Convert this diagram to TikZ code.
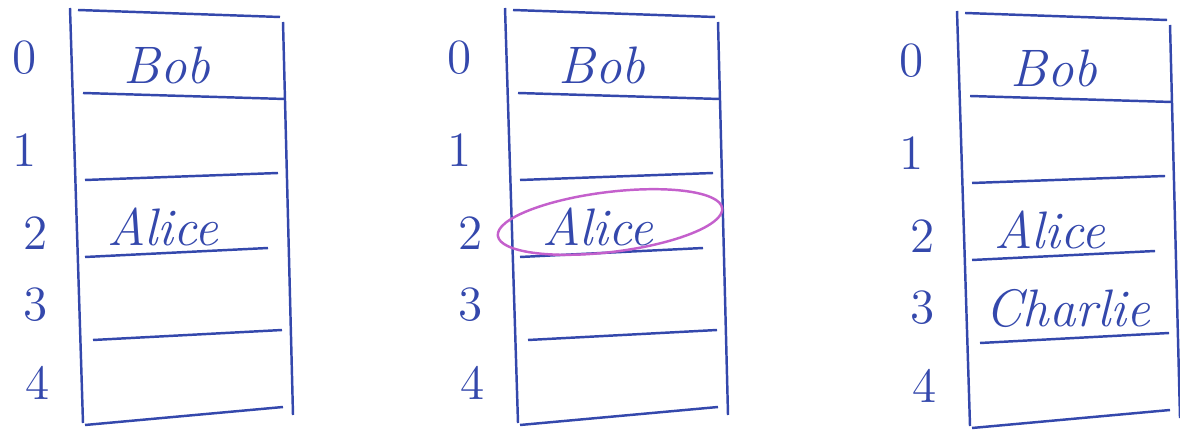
\documentclass[tikz,border=0pt]{standalone}
\definecolor{ink}{RGB}{52,72,172}
\definecolor{marker}{RGB}{196,96,204}
\begin{document}
\begin{tikzpicture}[x=0.01cm, y=-0.01cm, line width=0.7pt, ink,
        idx/.style={inner sep=1pt, font=\fontsize{14}{16}\selectfont},
        entry/.style={inner sep=1pt, font=\fontsize{15}{18}\selectfont\itshape}]
    \useasboundingbox (0,0) rectangle (1180,431);
    \foreach \t/\dx/\dy in {1/0/0, 2/435/0, 3/887/3}{
        \begin{scope}[shift={(\dx,\dy)}]
            \draw (70,8) -- (83,423);
            \draw (283,22) -- (293,415);
            \draw (78,10) -- (280,17);
            \draw (83,93) -- (285,99);
            \draw (85,180) -- (278,173);
            \draw (85,257) -- (268,248);
            \draw (93,340) -- (282,330);
            \draw (85,425) -- (283,407);
            \foreach \k/\x/\y in {0/25/58, 1/25/150, 2/36/233, 3/36/305, 4/38/383}
                \draw (\x,\y)node[idx,name=t\t-\k]{\k};
            \draw (167,65)node[entry,name=t\t-bob]{Bob};
            \draw (163,227)node[entry,name=t\t-alice]{Alice};
        \end{scope}
    }
    \draw (1068,308)node[entry,name=t3-charlie]{Charlie};
    \draw[marker, rotate around={7:(610,222)}] (610,222) ellipse [x radius=113, y radius=30];
\end{tikzpicture}
\end{document}
